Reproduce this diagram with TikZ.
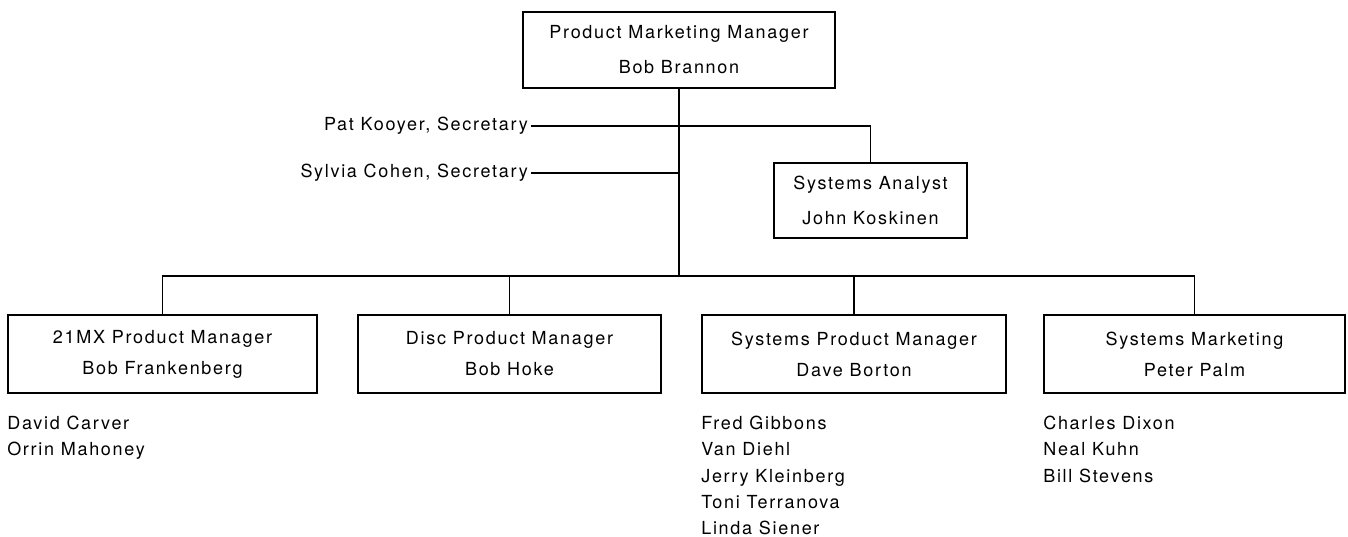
\documentclass[tikz,border=0pt]{standalone}
\usepackage{fontspec}
\setmainfont{TeX Gyre Heros}[LetterSpace=9.5]
\usetikzlibrary{positioning}

\tikzset{
  unit/.style={draw, line width=1.8pt, inner sep=0pt, align=center,
    font=\fontsize{18}{31}\selectfont},
  headunit/.style={unit, font=\fontsize{18}{35}\selectfont},
  staff/.style={inner sep=0pt, align=left, font=\fontsize{18}{26.3}\selectfont},
  aide/.style={inner sep=0pt, anchor=east, font=\fontsize{18}{22}\selectfont},
  link/.style={line width=1.8pt}
}

\begin{document}
\begin{tikzpicture}[x=1pt, y=-1pt]

\useasboundingbox (0,0) rectangle (1348,536);

% Manager at the top
\node[headunit, minimum width=312pt, minimum height=76pt] (pmm) at (679,50)
  {Product Marketing Manager\\Bob Brannon};

% Staff support beside the trunk
\node[headunit, minimum width=193pt, minimum height=75pt] (analyst) at (870.5,200.5)
  {Systems Analyst\\John Koskinen};
\node[aide] (pat) at (528,126) {Pat Kooyer, Secretary};
\node[aide] (sylvia) at (528,173) {Sylvia Cohen, Secretary};

% The four product groups
\node[unit, minimum width=309pt, minimum height=78pt] (mx) at (162.5,354)
  {21MX Product Manager\\Bob Frankenberg};
\node[unit, minimum width=303pt, minimum height=78pt] (disc) at (509.5,354)
  {Disc Product Manager\\Bob Hoke};
\node[unit, minimum width=304pt, minimum height=78pt] (sys) at (854,354)
  {Systems Product Manager\\Dave Borton};
\node[unit, minimum width=301pt, minimum height=78pt] (mkt) at (1194.5,354)
  {Systems Marketing\\Peter Palm};

% People under each group
\node[staff, below right=22pt and 0pt of mx.south west] (mxstaff)
  {David Carver\\Orrin Mahoney};
\node[staff, below right=22pt and 0pt of sys.south west] (sysstaff)
  {Fred Gibbons\\Van Diehl\\Jerry Kleinberg\\Toni Terranova\\Linda Siener};
\node[staff, below right=22pt and 0pt of mkt.south west] (mktstaff)
  {Charles Dixon\\Neal Kuhn\\Bill Stevens};

% Trunk and bus
\coordinate (bus) at (679,276);
\draw[link] (pmm) -- (pmm |- bus);
\draw[link] (mx) -- (mx |- bus) -- (mkt |- bus) -- (mkt);
\draw[link] (disc) -- (disc |- bus);
\draw[link] (sys) -- (sys |- bus);

% Secretaries and analyst
\draw[link] (pat.east) ++(3pt,0) -- (analyst |- pat.east) -- (analyst);
\draw[link] (sylvia.east) ++(3pt,0) -- (pmm |- sylvia.east);

\end{tikzpicture}
\end{document}
